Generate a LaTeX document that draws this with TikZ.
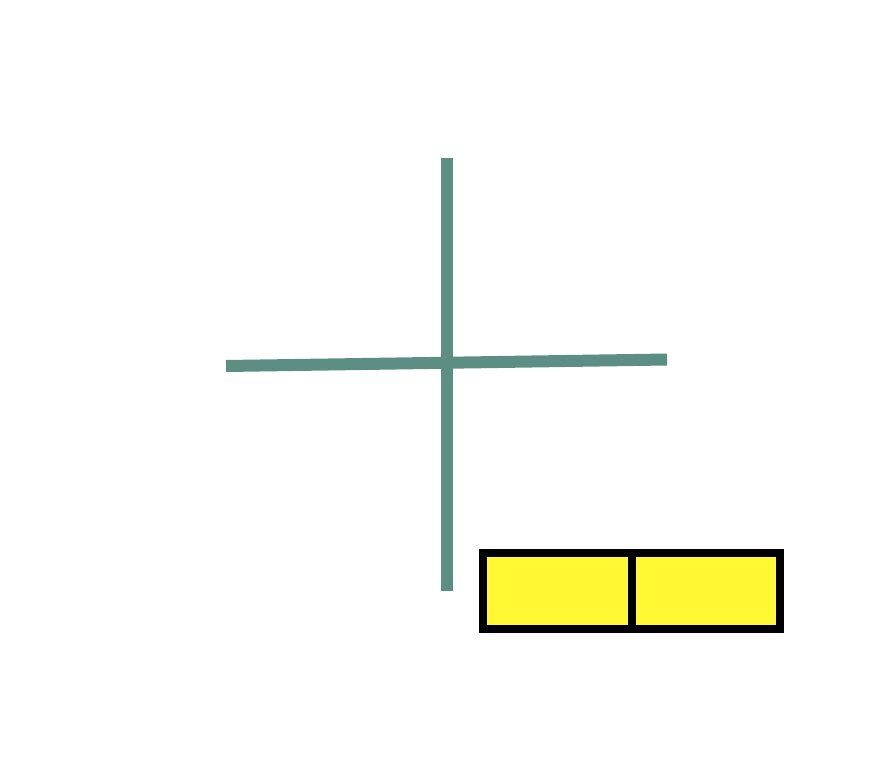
\documentclass[tikz,border=0pt]{standalone}
\definecolor{crossteal}{RGB}{92,142,132}
\definecolor{boxyellow}{RGB}{255,248,50}
\begin{document}
\begin{tikzpicture}[x=1pt, y=-1pt]
		\useasboundingbox (0,0) rectangle (894,774);
		
		% Cross
		\draw[crossteal, line width=12pt] (447, 158) -- (447, 591);
		\draw[crossteal, line width=12pt] (226, 366) -- (667, 359.5);
		
		% Box
		\filldraw[fill=boxyellow, line width=8pt] (483, 553) rectangle (780, 629);
		\draw[line width=8pt] (632, 553) -- (632, 629);
	\end{tikzpicture}
\end{document}
